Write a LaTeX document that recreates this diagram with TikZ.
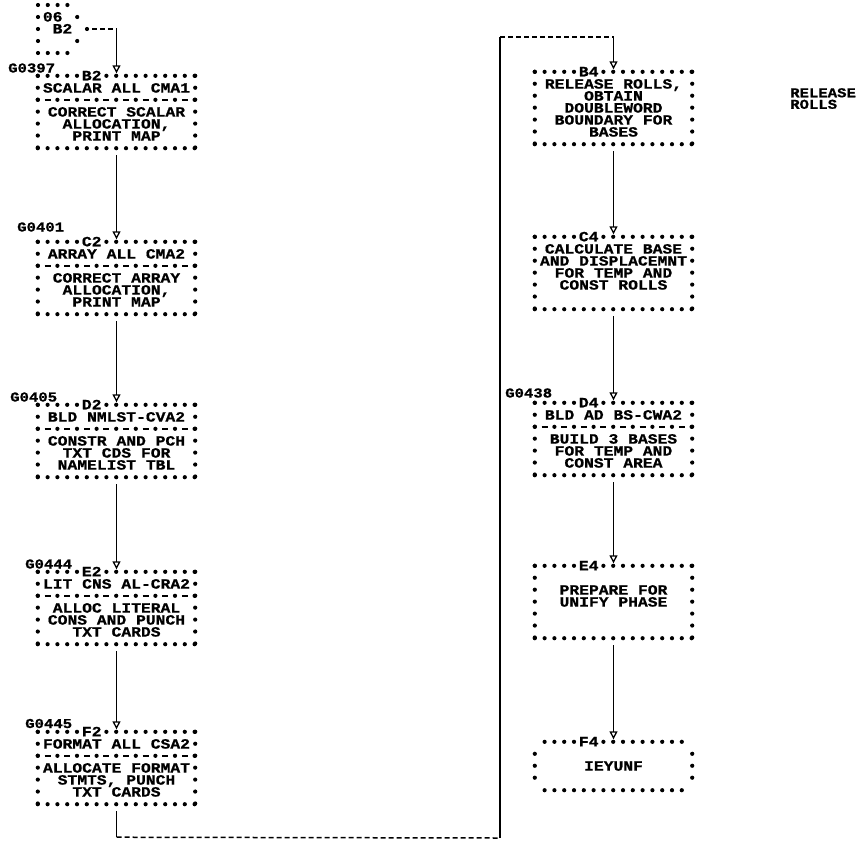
\documentclass[tikz,border=0pt]{standalone}
\usepackage{fontspec}
\newfontfamily\chainfont[FakeStretch=1.15, BoldFeatures={FakeBold=0.8}]{Liberation Mono}
\usetikzlibrary{arrows.meta,positioning,calc}

\newcommand\rowstrut{\vrule height 10.6pt depth 1.4pt width 0pt}
\newcommand\fiverows[5]{\vbox{\baselineskip=12pt \lineskiplimit=-20pt
  \halign{\hfil##\hfil\rowstrut\cr#1\cr#2\cr#3\cr#4\cr#5\cr}}}

\tikzset{
  chartbox/.style={minimum width=157pt, minimum height=72pt, inner sep=0pt,
    font=\chainfont\bfseries\fontsize{14.2}{12}\selectfont},
  termbox/.style={chartbox, minimum height=48pt},
  starrow/.style={line width=4.2pt, line cap=round, dash pattern=on 0pt off 9.8pt},
  starcol/.style={line width=4.2pt, line cap=round, dash pattern=on 0pt off 11.95pt},
  sepdots/.style={line width=4.2pt, line cap=round, dash pattern=on 0pt off 19.6pt},
  sepdash/.style={line width=1.5pt, dash pattern=on 6pt off 13.6pt},
  tag/.style={fill=white, inner sep=0.6pt, text height=9pt, text depth=0pt,
    font=\chainfont\bfseries\fontsize{14.2}{12}\selectfont},
  gnum/.style={anchor=base west, inner sep=0pt,
    font=\chainfont\bfseries\fontsize{13.6}{12}\selectfont},
  flow/.style={line width=1.8pt, shorten <=7pt, shorten >=2.5pt,
    -{Triangle[open, width=8pt, length=8pt, line width=1.3pt]}},
  link/.style={line width=1.8pt},
  offlink/.style={line width=1.5pt, dash pattern=on 5pt off 3pt},
}

\begin{document}
\begin{tikzpicture}[x=1pt, y=-1pt]
\useasboundingbox (0,0) rectangle (858,843);
% off-page connector
\foreach \p in {(38,5),(47.8,5),(57.6,5),(67.4,5),(38,17),(77.2,17),(38,29),(87,29),
                (38,41),(77.2,41),(38,53),(47.8,53),(57.6,53),(67.4,53)}
  \fill \p circle (2.1pt);
\node[tag, fill=none] (ofp num) at (52.7,17) {06};
\node[tag, fill=none] (ofp ref) at (62.5,29) {B2};
\coordinate (ofp) at (87,29);

% left column
\node[chartbox] (b2) at (116.5,112) {\fiverows{SCALAR ALL CMA1}{}{CORRECT SCALAR}{ALLOCATION,}{PRINT MAP}};
\node[chartbox] (c2) at (116.5,278) {\fiverows{ARRAY ALL CMA2}{}{CORRECT ARRAY}{ALLOCATION,}{PRINT MAP}};
\node[chartbox] (d2) at (116.5,441) {\fiverows{BLD NMLST-CVA2}{}{CONSTR AND PCH}{TXT CDS FOR}{NAMELIST TBL}};
\node[chartbox] (e2) at (116.5,608) {\fiverows{LIT CNS AL-CRA2}{}{ALLOC LITERAL}{CONS AND PUNCH}{TXT CARDS}};
\node[chartbox] (f2) at (116.5,768) {\fiverows{FORMAT ALL CSA2}{}{ALLOCATE FORMAT}{STMTS, PUNCH}{TXT CARDS}};
% right column
\node[chartbox] (b4) at (613.5,108) {\fiverows{RELEASE ROLLS,}{OBTAIN}{DOUBLEWORD}{BOUNDARY FOR}{BASES}};
\node[chartbox] (c4) at (613.5,273) {\fiverows{CALCULATE BASE}{AND DISPLACEMNT}{FOR TEMP AND}{CONST ROLLS}{}};
\node[chartbox] (d4) at (613.5,439) {\fiverows{BLD AD BS-CWA2}{}{BUILD 3 BASES}{FOR TEMP AND}{CONST AREA}};
\node[chartbox] (e4) at (613.5,602) {\fiverows{}{PREPARE FOR}{UNIFY PHASE}{}{}};
\node[termbox] (f4) at (613.5,766) {IEYUNF};

% star borders
\foreach \n in {b2,c2,d2,e2,f2,b4,c4,d4,e4} {
  \draw[starrow] (\n.north west) -- (\n.north east);
  \draw[starrow] (\n.south west) -- (\n.south east);
  \draw[starcol] (\n.north west) -- (\n.south west);
  \draw[starcol] (\n.north east) -- (\n.south east);
}
\foreach \n in {b2,c2,d2,e2,f2,d4} {
  \draw[sepdots] ($(\n.north west)+(0,24)$) -- ($(\n.north east)+(0,24)$);
  \draw[sepdash] ($(\n.north west)+(6.8,24)$) -- ($(\n.north east)+(0,24)$);
}
\draw[starrow] ([xshift=9.8pt]f4.north west) -- ([xshift=-9.8pt]f4.north east);
\draw[starrow] ([xshift=9.8pt]f4.south west) -- ([xshift=-9.8pt]f4.south east);
\draw[starcol] ($(f4.north west)+(0,12)$) -- ($(f4.south west)+(0,-12)$);
\draw[starcol] ($(f4.north east)+(0,12)$) -- ($(f4.south east)+(0,-12)$);
\foreach \n/\t in {b2/B2,c2/C2,d2/D2,e2/E2,f2/F2,b4/B4,c4/C4,d4/D4,e4/E4,f4/F4}
  \node[tag] (\n tag) at ($(\n.north west)+(53.9,0)$) {\t};

% entry labels
\node[gnum] (g0397) at (8,72.5) {G0397};
\node[gnum] (g0401) at (17,231.5) {G0401};
\node[gnum] (g0405) at (10,401.5) {G0405};
\node[gnum] (g0444) at (25,568.5) {G0444};
\node[gnum] (g0445) at (25,728) {G0445};
\node[gnum] (g0438) at (505,397.5) {G0438};
\node[gnum, anchor=north west, align=left, font=\chainfont\bfseries\fontsize{13.6}{11.5}\selectfont]
  (note) at (790,88) {RELEASE\\ROLLS};

% flow lines
\coordinate (ofp turn) at (b2.north |- ofp);
\draw[offlink] ([xshift=5pt]ofp) -- (ofp turn);
\draw[flow, shorten <=0pt] (ofp turn) -- (b2.north);
\draw[flow] (b2) -- (c2);
\draw[flow] (c2) -- (d2);
\draw[flow] (d2) -- (e2);
\draw[flow] (e2) -- (f2);
\coordinate (loop a) at ($(f2.south)+(0,33)$);
\coordinate (loop b) at (500,838);
\coordinate (loop c) at (500,37);
\coordinate (loop d) at (b4.north |- loop c);
\draw[link, shorten <=7pt] (f2.south) -- (loop a);
\draw[offlink] (loop a) -- (loop b);
\draw[link] (loop b) -- (loop c);
\draw[offlink] (loop c) -- (loop d);
\draw[flow, shorten <=0pt] (loop d) -- (b4.north);
\draw[flow] (b4) -- (c4);
\draw[flow] (c4) -- (d4);
\draw[flow] (d4) -- (e4);
\draw[flow] (e4) -- (f4);
\end{tikzpicture}
\end{document}
